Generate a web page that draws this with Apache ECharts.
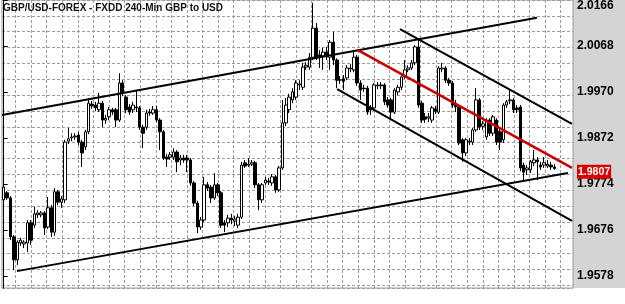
<!DOCTYPE html>
<html>
<head>
<meta charset="UTF-8">
<title>GBP/USD 240-Min</title>
<script src="https://cdn.jsdelivr.net/npm/echarts@6.0.0/dist/echarts.min.js"></script>
<style>
    html, body { margin: 0; padding: 0; background: #fff; }
    #chart { width: 625px; height: 304px; }
</style>
</head>
<body>
<div id="chart"></div>
<script type="text/javascript">
    // 4h bars, each row: [open, close, low, high]
    var candles = [
        [1.9740, 1.9767, 1.9735, 1.9772], [1.9755, 1.9744, 1.9740, 1.9759], [1.9744, 1.9661, 1.9654, 1.9748],
        [1.9661, 1.9612, 1.9590, 1.9665], [1.9612, 1.9650, 1.9601, 1.9654], [1.9648, 1.9654, 1.9642, 1.9659],
        [1.9646, 1.9650, 1.9637, 1.9654], [1.9648, 1.9691, 1.9629, 1.9697], [1.9691, 1.9654, 1.9644, 1.9697],
        [1.9686, 1.9710, 1.9680, 1.9725], [1.9708, 1.9712, 1.9701, 1.9718], [1.9708, 1.9712, 1.9703, 1.9716],
        [1.9712, 1.9680, 1.9665, 1.9716], [1.9682, 1.9723, 1.9678, 1.9746], [1.9723, 1.9671, 1.9661, 1.9729],
        [1.9671, 1.9757, 1.9663, 1.9765], [1.9757, 1.9735, 1.9729, 1.9761], [1.9735, 1.9742, 1.9723, 1.9748],
        [1.9740, 1.9863, 1.9733, 1.9868], [1.9865, 1.9870, 1.9859, 1.9893], [1.9872, 1.9874, 1.9865, 1.9882],
        [1.9874, 1.9876, 1.9868, 1.9882], [1.9878, 1.9863, 1.9857, 1.9885], [1.9863, 1.9840, 1.9810, 1.9868],
        [1.9853, 1.9885, 1.9846, 1.9889], [1.9885, 1.9946, 1.9880, 1.9957], [1.9944, 1.9940, 1.9934, 1.9951],
        [1.9942, 1.9936, 1.9929, 1.9949], [1.9932, 1.9946, 1.9927, 1.9968], [1.9946, 1.9910, 1.9895, 1.9951],
        [1.9910, 1.9914, 1.9902, 1.9921], [1.9917, 1.9932, 1.9910, 1.9938], [1.9932, 1.9927, 1.9921, 1.9936],
        [1.9932, 1.9910, 1.9895, 1.9936], [1.9910, 1.9989, 1.9906, 2.0010], [1.9989, 1.9968, 1.9961, 1.9995],
        [1.9959, 1.9932, 1.9925, 1.9963], [1.9938, 1.9927, 1.9921, 1.9944], [1.9932, 1.9942, 1.9925, 1.9949],
        [1.9938, 1.9936, 1.9927, 1.9974], [1.9936, 1.9895, 1.9889, 1.9940], [1.9895, 1.9882, 1.9850, 1.9900],
        [1.9895, 1.9925, 1.9889, 1.9932], [1.9927, 1.9925, 1.9919, 1.9934], [1.9925, 1.9932, 1.9921, 1.9940],
        [1.9932, 1.9910, 1.9906, 1.9940], [1.9910, 1.9885, 1.9846, 1.9914], [1.9885, 1.9829, 1.9825, 1.9889],
        [1.9831, 1.9827, 1.9810, 1.9838], [1.9831, 1.9836, 1.9825, 1.9842], [1.9831, 1.9842, 1.9825, 1.9850],
        [1.9842, 1.9821, 1.9799, 1.9846], [1.9825, 1.9829, 1.9814, 1.9836], [1.9829, 1.9825, 1.9819, 1.9836],
        [1.9829, 1.9825, 1.9799, 1.9836], [1.9825, 1.9776, 1.9770, 1.9829], [1.9776, 1.9733, 1.9727, 1.9780],
        [1.9733, 1.9682, 1.9669, 1.9738], [1.9682, 1.9697, 1.9676, 1.9703], [1.9697, 1.9772, 1.9693, 1.9789],
        [1.9772, 1.9765, 1.9759, 1.9778], [1.9767, 1.9744, 1.9733, 1.9772], [1.9744, 1.9772, 1.9740, 1.9797],
        [1.9772, 1.9755, 1.9748, 1.9776], [1.9755, 1.9686, 1.9680, 1.9759], [1.9691, 1.9686, 1.9671, 1.9697],
        [1.9691, 1.9701, 1.9682, 1.9708], [1.9701, 1.9697, 1.9688, 1.9710], [1.9695, 1.9699, 1.9684, 1.9706],
        [1.9686, 1.9703, 1.9680, 1.9710], [1.9703, 1.9814, 1.9699, 1.9821], [1.9819, 1.9812, 1.9808, 1.9825],
        [1.9814, 1.9816, 1.9810, 1.9829], [1.9816, 1.9819, 1.9812, 1.9825], [1.9819, 1.9772, 1.9765, 1.9823],
        [1.9772, 1.9740, 1.9718, 1.9776], [1.9740, 1.9772, 1.9733, 1.9776], [1.9776, 1.9782, 1.9772, 1.9789],
        [1.9780, 1.9778, 1.9772, 1.9787], [1.9776, 1.9789, 1.9770, 1.9795], [1.9789, 1.9761, 1.9755, 1.9793],
        [1.9761, 1.9808, 1.9757, 1.9812], [1.9808, 1.9904, 1.9804, 1.9953], [1.9904, 1.9942, 1.9897, 1.9957],
        [1.9932, 1.9959, 1.9925, 1.9966], [1.9953, 1.9970, 1.9946, 1.9978], [1.9959, 1.9989, 1.9953, 1.9995],
        [1.9985, 1.9987, 1.9974, 1.9995], [1.9980, 2.0023, 1.9974, 2.0032], [2.0023, 2.0027, 2.0017, 2.0034],
        [2.0023, 2.0044, 2.0017, 2.0053], [2.0044, 2.0106, 2.0038, 2.0160], [2.0106, 2.0044, 2.0038, 2.0117],
        [2.0049, 2.0044, 2.0021, 2.0059], [2.0047, 2.0055, 2.0017, 2.0064], [2.0055, 2.0047, 2.0038, 2.0066],
        [2.0044, 2.0076, 2.0017, 2.0081], [2.0076, 2.0038, 2.0027, 2.0098], [2.0038, 1.9995, 1.9978, 2.0042],
        [1.9995, 1.9996, 1.9987, 2.0004], [1.9998, 1.9993, 1.9974, 2.0006], [2.0000, 2.0021, 1.9995, 2.0027],
        [2.0019, 2.0021, 2.0012, 2.0030], [2.0017, 2.0044, 2.0012, 2.0059], [2.0044, 1.9989, 1.9983, 2.0049],
        [1.9989, 1.9974, 1.9953, 1.9995], [1.9978, 1.9977, 1.9970, 1.9985], [1.9978, 1.9927, 1.9921, 1.9983],
        [1.9936, 1.9932, 1.9921, 1.9942], [1.9936, 1.9985, 1.9932, 1.9989], [1.9983, 1.9985, 1.9976, 1.9991],
        [1.9985, 1.9983, 1.9976, 1.9991], [1.9985, 1.9949, 1.9942, 1.9989], [1.9953, 1.9942, 1.9936, 1.9959],
        [1.9953, 1.9927, 1.9910, 1.9957], [1.9927, 1.9974, 1.9923, 1.9978], [1.9970, 1.9980, 1.9963, 1.9985],
        [1.9980, 2.0002, 1.9974, 2.0006], [2.0002, 2.0017, 1.9998, 2.0038], [2.0017, 2.0021, 2.0012, 2.0027],
        [2.0021, 2.0032, 2.0017, 2.0038], [2.0032, 2.0066, 2.0027, 2.0070], [2.0066, 1.9942, 1.9936, 2.0081],
        [1.9946, 1.9910, 1.9904, 1.9951], [1.9917, 1.9912, 1.9904, 1.9925], [1.9914, 1.9917, 1.9906, 1.9925],
        [1.9910, 1.9936, 1.9904, 1.9940], [1.9934, 1.9929, 1.9923, 1.9940], [1.9927, 2.0021, 1.9923, 2.0025],
        [2.0019, 2.0021, 2.0012, 2.0032], [2.0021, 1.9995, 1.9989, 2.0025], [1.9995, 1.9989, 1.9983, 2.0000],
        [1.9989, 1.9942, 1.9936, 1.9993], [1.9946, 1.9938, 1.9927, 1.9953], [1.9938, 1.9861, 1.9857, 1.9942],
        [1.9868, 1.9840, 1.9821, 1.9872], [1.9840, 1.9868, 1.9833, 1.9872], [1.9865, 1.9863, 1.9857, 1.9872],
        [1.9863, 1.9889, 1.9857, 1.9893], [1.9889, 1.9953, 1.9885, 1.9978], [1.9953, 1.9895, 1.9889, 1.9957],
        [1.9897, 1.9902, 1.9889, 1.9908], [1.9874, 1.9910, 1.9868, 1.9914], [1.9910, 1.9882, 1.9876, 1.9914],
        [1.9882, 1.9917, 1.9876, 1.9921], [1.9910, 1.9863, 1.9857, 1.9914], [1.9885, 1.9863, 1.9846, 1.9893],
        [1.9868, 1.9942, 1.9861, 1.9946], [1.9942, 1.9949, 1.9936, 1.9953], [1.9951, 1.9953, 1.9944, 1.9974],
        [1.9953, 1.9932, 1.9925, 1.9957], [1.9936, 1.9932, 1.9925, 1.9942], [1.9938, 1.9808, 1.9801, 1.9942],
        [1.9814, 1.9799, 1.9782, 1.9819], [1.9804, 1.9808, 1.9793, 1.9814], [1.9804, 1.9821, 1.9797, 1.9825],
        [1.9819, 1.9825, 1.9812, 1.9846], [1.9825, 1.9821, 1.9782, 1.9831], [1.9814, 1.9810, 1.9804, 1.9821],
        [1.9814, 1.9819, 1.9808, 1.9831], [1.9812, 1.9816, 1.9808, 1.9825], [1.9814, 1.9810, 1.9804, 1.9821],
        [1.9810, 1.9807, 1.9804, 1.9816]
    ];
    // bar slots on the time axis (the last few are empty space)
    var slotCount = 168;
    var priceTicks = [1.9578, 1.9676, 1.9774, 1.9872, 1.9970, 2.0068, 2.0166];
    var lastPrice = 1.9807;
    var priceMin = 1.9552, priceMax = 2.0166;

    // trend lines drawn on the chart, points are [bar index, price]
    var risingTop = [[-0.5, 1.9921], [156.9, 2.0128]];
    var risingBottom = [[3.9, 1.9588], [166.0, 1.9797]];
    var fallingTop = [[116.6, 2.0104], [167.2, 1.9902]];
    var fallingBottom = [[98.1, 1.9976], [167.2, 1.9695]];
    var fallingMid = [[104.2, 2.0059], [167.2, 1.9808]];

    var slots = [];
    for (var i = 0; i < slotCount; i++) {
        slots.push(String(i));
    }

    var chart = echarts.init(document.getElementById('chart'), null, {renderer: 'canvas'});

    var gridDash = {color: '#9c9c9c', width: 1, type: [3, 2]};

    function trend(points, color, width) {
        return {
            type: 'line',
            xAxisIndex: 1,
            yAxisIndex: 0,
            data: points,
            showSymbol: false,
            symbol: 'none',
            silent: true,
            z: 3,
            lineStyle: {color: color, width: width}
        };
    }

    var option = {
        animation: false,
        backgroundColor: '#ffffff',
        title: {
            text: 'GBP/USD-FOREX - FXDD 240-Min GBP to USD',
            left: 3,
            top: 3,
            padding: 0,
            textStyle: {
                fontFamily: "'Liberation Sans', Arial, sans-serif",
                fontSize: 10,
                fontWeight: 'bold',
                color: '#111'
            }
        },
        grid: [
            // main plot
            {left: 2, top: 0, width: 571, height: 288, show: true, borderColor: '#9a9a9a', borderWidth: 1, backgroundColor: 'transparent'},
            // price panel
            {left: 573, top: 0, width: 52, height: 288, show: true, backgroundColor: '#d4d4d4', borderWidth: 0, z: -1},
            // vertical dotted grid
            {left: -8.3, top: 0, width: 584.6, height: 288, show: false}
        ],
        xAxis: [
            {
                type: 'category', gridIndex: 0, data: slots, boundaryGap: true,
                axisLine: {show: false}, axisTick: {show: false}, axisLabel: {show: false}, splitLine: {show: false}
            },
            {
                type: 'value', gridIndex: 0, min: -0.5, max: slotCount - 0.5, show: false
            },
            {
                type: 'value', gridIndex: 2, min: 0, max: 37, interval: 1,
                axisLine: {show: false}, axisTick: {show: false}, axisLabel: {show: false},
                splitLine: {show: true, showMinLine: false, showMaxLine: false, lineStyle: gridDash}
            }
        ],
        yAxis: [
            {
                type: 'value', gridIndex: 0, position: 'right', min: priceMin, max: priceMax, scale: true,
                axisLine: {show: true, lineStyle: {color: '#000', width: 1}},
                axisTick: {show: true, length: 4, customValues: priceTicks, lineStyle: {color: '#000'}},
                axisLabel: {
                    show: true, customValues: priceTicks, margin: 4,
                    verticalAlignMaxLabel: 'top',
                    color: '#000', fontSize: 12, fontWeight: 'bold',
                    fontFamily: "'Liberation Sans', Arial, sans-serif",
                    formatter: function (v) { return v.toFixed(4); }
                },
                splitLine: {show: false}
            },
            {
                type: 'value', gridIndex: 0, min: 0, max: 18.17, interval: 1, inverse: true,
                axisLine: {show: false}, axisTick: {show: false}, axisLabel: {show: false},
                splitLine: {show: true, lineStyle: gridDash}
            },
            {
                type: 'value', gridIndex: 2, min: 0, max: 1, show: false, splitLine: {show: false}
            }
        ],
        series: [
            {
                type: 'candlestick',
                xAxisIndex: 0,
                yAxisIndex: 0,
                data: candles,
                barWidth: 3,
                silent: true,
                itemStyle: {
                    color: '#ffffff',
                    color0: '#000000',
                    borderColor: '#000000',
                    borderColor0: '#000000',
                    borderWidth: 1
                },
                markLine: {
                    silent: true,
                    symbol: 'none',
                    lineStyle: {color: 'rgba(0,0,0,0)', width: 0},
                    data: [{yAxis: lastPrice}],
                    label: {
                        show: true,
                        position: 'end',
                        distance: 4,
                        formatter: lastPrice.toFixed(4),
                        backgroundColor: '#d90000',
                        color: '#ffffff',
                        fontSize: 10.5,
                        fontWeight: 'bold',
                        fontFamily: "'Liberation Sans', Arial, sans-serif",
                        padding: [2, 1, 1, 1],
                        lineHeight: 11
                    }
                }
            },
            trend(risingTop, '#000000', 2),
            trend(risingBottom, '#000000', 2),
            trend(fallingTop, '#000000', 2),
            trend(fallingBottom, '#000000', 2),
            trend(fallingMid, '#cc0000', 2.5)
        ]
    };

    chart.setOption(option);
</script>
</body>
</html>
